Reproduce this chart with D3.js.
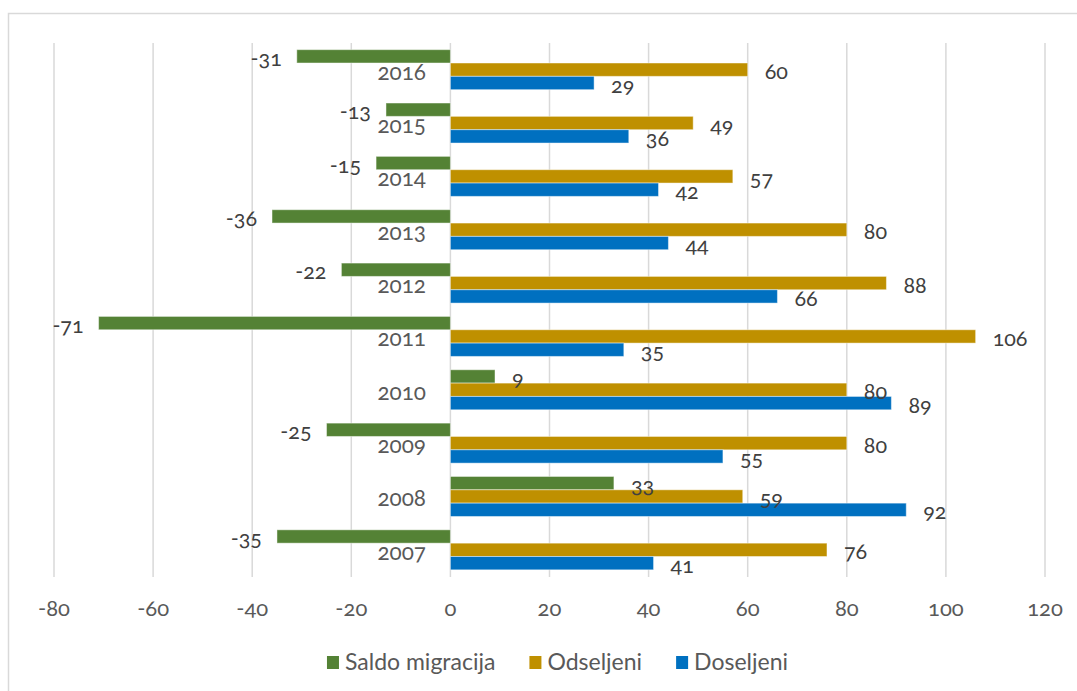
<!DOCTYPE html>
<html>
<head>
<meta charset="utf-8">
<script src="https://cdn.jsdelivr.net/npm/d3@7"></script>
<style>
  html, body { margin: 0; padding: 0; background: #fff; }
  svg text { font-family: Lato, "Open Sans", sans-serif; font-variant-numeric: oldstyle-nums; font-feature-settings: "onum" 1; }
</style>
</head>
<body>
<svg id="chart" width="1077" height="691"></svg>
<script>
const years = ["2007","2008","2009","2010","2011","2012","2013","2014","2015","2016"];
const saldoMigracija = [-35, 33, -25, 9, -71, -22, -36, -15, -13, -31];
const odseljeni = [76, 59, 80, 80, 106, 88, 80, 57, 49, 60];
const doseljeni = [41, 92, 55, 89, 35, 66, 44, 42, 36, 29];
const seriesNames = ["Saldo migracija", "Odseljeni", "Doseljeni"];
const seriesColors = ["#548235", "#BF9000", "#0070C0"];
const xTicks = [-80, -60, -40, -20, 0, 20, 40, 60, 80, 100, 120];

const seriesValues = [saldoMigracija, odseljeni, doseljeni];
const svg = d3.select("#chart");

// outer border
svg.append("rect").attr("x", 8.5).attr("y", 13.5).attr("width", 1200).attr("height", 800)
  .attr("fill", "#fff").attr("stroke", "#d9d9d9").attr("stroke-width", 1.5);

const x = d3.scaleLinear().domain([-80, 120]).range([54, 1045]);
const y = d3.scaleBand().domain(years.slice().reverse()).range([43, 576.5])
  .paddingInner(0.25).paddingOuter(0.125);
const ySub = d3.scaleBand().domain(seriesNames).range([0, y.bandwidth()]);

// gridlines
svg.append("g").selectAll("line").data(xTicks).join("line")
  .attr("x1", d => x(d)).attr("x2", d => x(d))
  .attr("y1", 43).attr("y2", 577)
  .attr("stroke", "#d9d9d9").attr("stroke-width", 1.5);

// tick labels
svg.append("g").selectAll("text").data(xTicks).join("text")
  .attr("x", d => x(d)).attr("y", 608).attr("dy", "0.35em")
  .attr("text-anchor", "middle").attr("fill", "#595959")
  .style("font-size", "22px").text(d => d);

// year labels
svg.append("g").selectAll("text").data(years).join("text")
  .attr("x", 426).attr("y", d => y(d) + y.bandwidth() / 2 + 2).attr("dy", "0.35em")
  .attr("text-anchor", "end").attr("fill", "#595959")
  .style("font-size", "22.5px").text(d => d);

// bars
const barData = [];
years.forEach((yr, i) => {
  seriesNames.forEach((s, j) => {
    barData.push({ year: yr, series: s, value: seriesValues[j][i], color: seriesColors[j] });
  });
});

svg.append("g").selectAll("rect").data(barData).join("rect")
  .attr("x", d => x(Math.min(0, d.value)))
  .attr("y", d => y(d.year) + ySub(d.series))
  .attr("width", d => Math.abs(x(d.value) - x(0)))
  .attr("height", ySub.bandwidth())
  .attr("fill", d => d.color)
  .attr("stroke", "rgba(255,255,255,0.45)").attr("stroke-width", 1);

// data labels
svg.append("g").selectAll("text").data(barData).join("text")
  .attr("x", d => d.value >= 0 ? x(d.value) + 17 : x(d.value) - 15)
  .attr("y", d => y(d.year) + ySub(d.series) + ySub.bandwidth() / 2 + 2)
  .attr("dy", "0.35em")
  .attr("text-anchor", d => d.value >= 0 ? "start" : "end")
  .attr("fill", "#404040")
  .style("font-size", "21.5px")
  .text(d => d.value);

// legend
const legend = svg.append("g");
let cx = 0;
seriesNames.forEach((s, j) => {
  const g = legend.append("g");
  g.append("rect").attr("x", 0).attr("y", -6).attr("width", 12).attr("height", 13).attr("fill", seriesColors[j]);
  const t = g.append("text").attr("x", 18).attr("y", 0).attr("dy", "0.35em")
    .attr("fill", "#595959").style("font-size", "23px").text(s);
  const w = 18 + t.node().getComputedTextLength();
  g.attr("transform", `translate(${cx},0)`);
  cx += w + 34;
});
const totalW = cx - 34;
legend.attr("transform", `translate(${557.5 - totalW / 2},662)`);
</script>
</body>
</html>
